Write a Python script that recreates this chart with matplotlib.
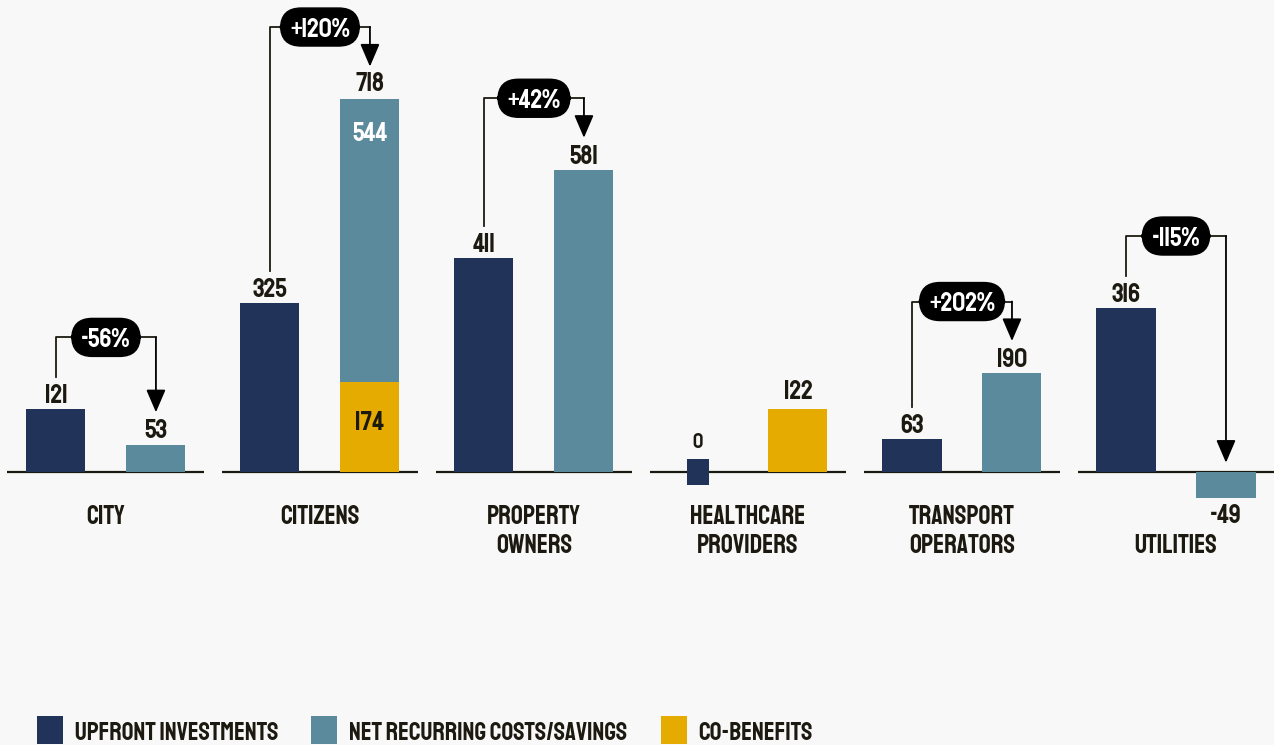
import matplotlib
matplotlib.use("Agg")
import matplotlib.pyplot as plt
from matplotlib.patches import Rectangle
from matplotlib import font_manager

# ---------------- data ----------------
categories = ["CITY", "CITIZENS", "PROPERTY\nOWNERS", "HEALTHCARE\nPROVIDERS",
              "TRANSPORT\nOPERATORS", "UTILITIES"]
upfront = [121, 325, 411, 0, 63, 316]
recurring = [53, 544, 581, None, 190, -49]
cobenefits = [None, 174, None, 122, None, None]
changes = ["-56%", "+120%", "+42%", None, "+202%", "-115%"]
legend_labels = ["UPFRONT INVESTMENTS", "NET RECURRING COSTS/SAVINGS", "CO-BENEFITS"]

NAVY = "#22335a"
TEAL = "#5a8a9b"
YELLOW = "#e6ab00"
BG = "#f8f8f8"
INK = "#1c1a10"

names = {f.name for f in font_manager.fontManager.ttflist}
FONT = "Staatliches" if "Staatliches" in names else "DejaVu Sans"
plt.rcParams["font.family"] = [FONT, "DejaVu Sans"]

fig = plt.figure(figsize=(12.74, 7.45), dpi=100, facecolor=BG)
ax = fig.add_axes([0, 0, 1, 1])
ax.set_facecolor(BG)
ax.set_xlim(-0.495, 5.458)
ax.set_ylim(-525, 908)
ax.axis("off")

OFF = 0.2336
W = 0.276
FS = 19

for i, cat in enumerate(categories):
    xl, xr = i - OFF, i + OFF
    # baseline
    ax.plot([i - 0.46, i + 0.46], [0, 0], color=INK, lw=1.6, zorder=1, solid_capstyle="butt")
    # upfront bar
    u = upfront[i]
    if u == 0:
        ax.bar(xl, 50, bottom=-25, width=W * 0.36, color=NAVY, zorder=3)
        ax.text(xl, 60, "0", ha="center", va="center", fontsize=FS - 4, color=INK)
    else:
        ax.bar(xl, u, width=W, color=NAVY, zorder=3)
        ax.text(xl, u + 30, str(u), ha="center", va="center", fontsize=FS, color=INK)
    # right bar(s)
    r = recurring[i]
    c = cobenefits[i]
    below = False
    if r is not None and c is not None:
        ax.bar(xr, c, width=W, color=YELLOW, zorder=3)
        ax.bar(xr, r, bottom=c, width=W, color=TEAL, zorder=3)
        ax.text(xr, c * 0.5 + 12, str(c), ha="center", va="center", fontsize=FS, color=INK)
        ax.text(xr, c + r - 62, str(r), ha="center", va="center", fontsize=FS, color="white")
        top = c + r
        ax.text(xr, top + 34, str(top), ha="center", va="center", fontsize=FS, color=INK)
    elif r is not None:
        ax.bar(xr, r, width=W, color=TEAL, zorder=3)
        if r >= 0:
            ax.text(xr, r + 30, str(r), ha="center", va="center", fontsize=FS, color=INK)
        else:
            ax.text(xr, r - 30, str(r), ha="center", va="center", fontsize=FS, color=INK)
            below = True
    elif c is not None:
        ax.bar(xr, c, width=W, color=YELLOW, zorder=3)
        ax.text(xr, c + 36, str(c), ha="center", va="center", fontsize=FS, color=INK)
    # category label
    for k, ln in enumerate(cat.split("\n")):
        ax.text(i, (-137 if below else -81) - 57 * k, ln, ha="center", va="center",
                fontsize=FS, color=INK)

    # change annotation
    if changes[i] is not None:
        rv = (c or 0) + (r or 0)
        ymax = max(u, rv)
        py = ymax + 138
        ystart = u + 62
        ytip = rv + 62 if rv > 0 else 18
        ax.plot([xl, xl, xr], [ystart, py, py], color=INK, lw=1.3, zorder=2)
        ax.annotate("", xy=(xr, ytip), xytext=(xr, py),
                    arrowprops=dict(arrowstyle="-|>,head_width=0.3,head_length=0.7",
                                    color="black", lw=1.3, mutation_scale=20,
                                    shrinkA=0, shrinkB=0), zorder=2)
        ax.text(i, py, changes[i], ha="center", va="center", fontsize=FS, color="white",
                zorder=5,
                bbox=dict(boxstyle="round,pad=0.36,rounding_size=0.78", fc="black", ec="black"))

# legend drawn at the bottom (pixel layout)
renderer = fig.canvas.get_renderer()
FW, FH = 1274.0, 745.0
x = 37.0
LFS = 18.5
for col, lab in zip((NAVY, TEAL, YELLOW), legend_labels):
    fig.patches.append(Rectangle((x / FW, 1 / FH), 26 / FW, 28 / FH, transform=fig.transFigure,
                                 facecolor=col, edgecolor="none"))
    t = fig.text((x + 38) / FW, 1 - 731 / FH, lab, ha="left", va="center",
                 fontsize=LFS, color=INK)
    bb = t.get_window_extent(renderer)
    x = bb.x1 + 33

fig.savefig("out.png", dpi=100, facecolor=BG)
